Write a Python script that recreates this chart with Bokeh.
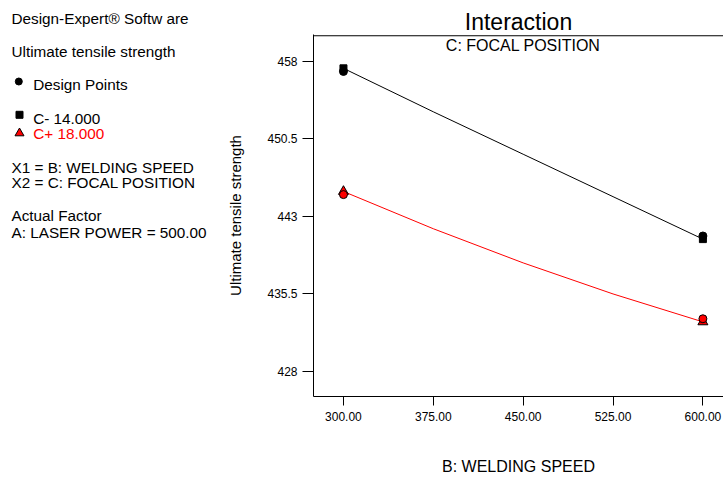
from bokeh.plotting import figure
from bokeh.layouts import row
from bokeh.models import Range1d, FixedTicker, Label, Title, Span
from bokeh.core.properties import value
from bokeh.embed import file_html
from bokeh.resources import INLINE

# ---- data ----
speed = [300, 375, 450, 525, 600]                 # B: WELDING SPEED
c_minus = [457.3, 453.1, 449.0, 444.9, 440.8]     # C- 14.000 prediction
c_plus = [445.4, 441.8, 438.5, 435.5, 432.8]      # C+ 18.000 prediction
design_speed = [300, 600]
design_minus = [457.0, 441.1]
design_plus = [445.1, 433.1]

speed_ticks = [300, 375, 450, 525, 600]
speed_tick_labels = ["300.00", "375.00", "450.00", "525.00", "600.00"]
uts_ticks = [428, 435.5, 443, 450.5, 458]
uts_tick_labels = ["428", "435.5", "443", "450.5", "458"]

info_lines = ["Design-Expert® Softw are", "Ultimate tensile strength", "Design Points",
              "C- 14.000", "C+ 18.000", "X1 = B: WELDING SPEED", "X2 = C: FOCAL POSITION",
              "Actual Factor", "A: LASER POWER = 500.00"]

FONT = "Liberation Sans"
RED = "#FF0000"
H = 477
X_START, X_END = 275, 617.2
Y_START, Y_END = 425.59, 460.57


def no_align(fig):
    try:
        fig.frame_align = False
    except Exception:
        pass


# ---- left info panel ----
left = figure(width=215, height=H, x_range=Range1d(0, 215), y_range=Range1d(H, 0),
              output_backend="svg", toolbar_location=None, min_border=0,
              x_axis_location=None, y_axis_location=None)
left.title.visible = False
left.grid.visible = False
left.outline_line_color = None
left.background_fill_color = None
left.border_fill_color = None
no_align(left)

info_x = [11, 11, 32.7, 32.7, 32.7, 11, 11, 11, 11]
info_y = [18, 51.3, 84, 117.5, 133.3, 166.7, 182.3, 215.3, 231.7]
info_col = ["black", "black", "black", "black", RED, "black", "black", "black", "black"]
left.text(x=info_x, y=info_y, text=info_lines, text_color=info_col,
          text_font=value(FONT), text_font_size="15.3px",
          text_baseline="middle", text_align="left")
left.scatter([18.3], [81], marker="circle", size=7, color="black")
left.scatter([19], [114.3], marker="square", size=7, color="black")
left.scatter([19], [132.7], marker="triangle", size=9, fill_color=RED, line_color="black")

# ---- main chart ----
p = figure(width=723 - 215, height=H, x_range=Range1d(X_START, X_END),
           y_range=Range1d(Y_START, Y_END),
           output_backend="svg", toolbar_location=None,
           min_border_left=98, min_border_right=0, min_border_top=34, min_border_bottom=80)
no_align(p)
p.title = Title(text="Interaction", align="center", text_font=FONT, text_font_size="23px",
                text_font_style="normal", text_color="black", standoff=0,
                vertical_align="bottom", offset=3)
p.grid.visible = False
p.outline_line_color = None
p.background_fill_color = None
p.border_fill_color = None

xa = p.xaxis[0]
ya = p.yaxis[0]
xa.ticker = FixedTicker(ticks=speed_ticks)
xa.major_label_overrides = dict(zip(speed_ticks, speed_tick_labels))
ya.ticker = FixedTicker(ticks=uts_ticks)
ya.major_label_overrides = dict(zip(uts_ticks, uts_tick_labels))

for ax in (xa, ya):
    ax.axis_line_color = "black"
    ax.major_tick_line_color = "black"
    ax.minor_tick_line_color = None
    ax.major_tick_in = 0
    ax.major_label_text_font = FONT
    ax.major_label_text_font_size = "12px"
    ax.major_label_text_color = "black"
    ax.axis_label_text_font = FONT
    ax.axis_label_text_font_style = "normal"
    ax.axis_label_text_color = "black"

xa.major_tick_out = 9
ya.major_tick_out = 11
xa.major_label_standoff = 6
ya.major_label_standoff = 5
xa.axis_label = "B: WELDING SPEED"
xa.axis_label_text_font_size = "16px"
xa.axis_label_standoff = 34
ya.axis_label = "Ultimate tensile strength"
ya.axis_label_text_font_size = "15px"
ya.axis_label_standoff = 20

# top edge of the plotting box, drawn just inside the frame
p.add_layout(Span(location=Y_END - 0.12, dimension="width", line_color="black",
                  line_width=1.2, level="overlay"))

p.line(speed, c_minus, line_color="black", line_width=1)
p.line(speed, c_plus, line_color=RED, line_width=1)

ends = [0, len(speed) - 1]
p.scatter([speed[i] for i in ends], [c_minus[i] for i in ends], marker="square", size=7,
          color="black")
p.scatter(design_speed, design_minus, marker="circle", size=8, color="black")
p.scatter([speed[i] for i in ends], [c_plus[i] for i in ends], marker="triangle", size=10,
          fill_color=RED, line_color="black")
p.scatter(design_speed, design_plus, marker="circle", size=8, fill_color=RED, line_color="black")

p.add_layout(Label(x=(speed[0] + speed[-1]) / 2, y=459.51, text="C: FOCAL POSITION",
                   text_font=FONT, text_font_size="16px", text_align="center",
                   text_baseline="middle", text_color="black"))

layout = row(left, p)
open("out.html", "w").write(file_html(layout, INLINE))
